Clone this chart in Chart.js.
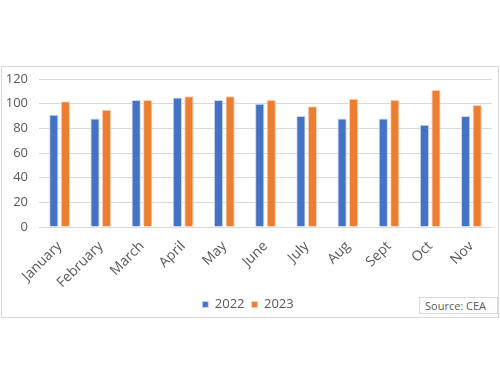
<!DOCTYPE html>
<html>
<head>
<meta charset="utf-8">
<script src="https://cdn.jsdelivr.net/npm/chart.js@4"></script>
<style>
  html, body { margin: 0; padding: 0; background: #fff; }
  body { width: 500px; height: 386px; position: relative; overflow: hidden; }
  #frame {
    position: absolute; left: 1px; top: 66px; width: 496px; height: 250px;
    border: 1px solid #d9d9d9;
  }
  #chart { display: block; }
  #source {
    position: absolute; left: 419px; top: 297px; width: 77px; height: 15px;
    border: 1px solid #d9d9d9; background: #fff;
    font: 11px "Open Sans", sans-serif; color: #595959; line-height: 15px;
    text-indent: 5px;
  }
</style>
</head>
<body>
<div id="frame"><canvas id="chart" width="496" height="250"></canvas></div>
<div id="source">Source: CEA</div>
<script>
// months and monthly values
const months = ['January', 'February', 'March', 'April', 'May', 'June', 'July', 'Aug', 'Sept', 'Oct', 'Nov'];
const values2022 = [91, 88, 103, 105, 103, 100, 90, 88, 88, 83, 90];
const values2023 = [102, 95, 103, 106, 106, 103, 98, 104, 103, 111, 99];
const yTicks = [0, 20, 40, 60, 80, 100, 120];

const textColor = '#595959';
const gridColor = '#d9d9d9';

new Chart(document.getElementById('chart'), {
  type: 'bar',
  data: {
    labels: months,
    datasets: [
      { label: '2022', data: values2022, backgroundColor: '#4472c4', borderColor: '#c9d6ee', borderWidth: 1 },
      { label: '2023', data: values2023, backgroundColor: '#ed7d31', borderColor: '#f8d2b8', borderWidth: 1 }
    ]
  },
  options: {
    responsive: false,
    animation: false,
    devicePixelRatio: 1,
    layout: { padding: { left: 2, right: 6, top: 0, bottom: -4 } },
    datasets: { bar: { categoryPercentage: 0.56, barPercentage: 0.8 } },
    scales: {
      x: {
        grid: { display: false },
        border: { color: gridColor },
        ticks: { color: textColor, font: { family: 'Open Sans', size: 14 }, maxRotation: 45, minRotation: 45, autoSkip: false, padding: 3 },
        // rotated labels hang past the plot edge, as in the original
        afterFit: s => { s.paddingLeft = 0; s.paddingRight = 0; s.height = 64; }
      },
      y: {
        min: 0, max: 120,
        afterBuildTicks: axis => { axis.ticks = yTicks.map(v => ({ value: v })); },
        grid: { color: gridColor, drawTicks: false },
        border: { display: false },
        ticks: { color: textColor, font: { family: 'Open Sans', size: 13 }, padding: 11 },
        afterFit: s => { s.width = 35; s.paddingTop = 12; s.paddingBottom = 0; }
      }
    },
    plugins: {
      legend: {
        position: 'bottom',
        labels: { color: textColor, font: { family: 'Open Sans', size: 13 }, usePointStyle: true, pointStyle: 'rect', boxWidth: 6, boxHeight: 6, padding: 7 }
      },
      tooltip: { enabled: false }
    }
  }
});
</script>
</body>
</html>
